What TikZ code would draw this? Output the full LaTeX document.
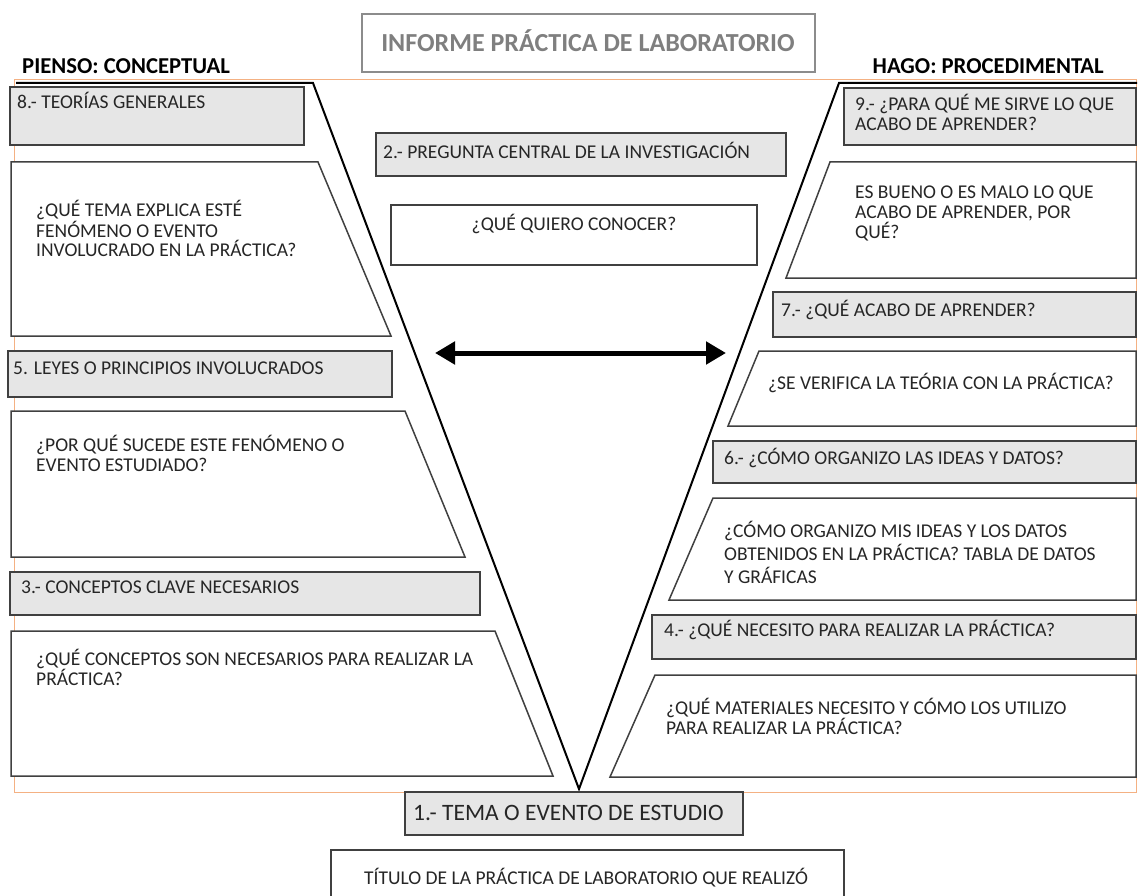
\documentclass[tikz,border=0pt]{standalone}
\usepackage{fontspec}
\setmainfont{Carlito}
\usetikzlibrary{positioning,arrows.meta}
\definecolor{framecol}{HTML}{F4B183}
\definecolor{boxgray}{HTML}{E6E6E6}
\definecolor{titlegray}{HTML}{7F7F7F}
\definecolor{txtcol}{HTML}{262626}

\begin{document}
\begin{tikzpicture}
    [x=1pt, y=-1pt,
    % multi-line nodes: base = last line
    txt/.style={anchor=base west, inner sep=0pt, text=txtcol, align=left,
        font=\fontsize{19.5}{20}\selectfont},
    head/.style={anchor=base west, inner sep=0pt, font=\bfseries\fontsize{22.7}{24}\selectfont},
    graybox/.style={draw=black!75, line width=1.5pt, fill=boxgray},
    whitebox/.style={draw=black!75, line width=1.5pt, fill=white},
    vline/.style={draw=black, line width=2pt, line join=miter},
    bigarrow/.style={line width=5pt,
        {Triangle[length=20pt,width=22pt]}-{Triangle[length=20pt,width=22pt]}}]
    \useasboundingbox (0,0) rectangle (1138,896);
    \clip (0,0) rectangle (1138,896);

    % headings
    \draw [draw=black!45, line width=1.5pt] (362,14) rectangle (815,72);
    \node [anchor=base, inner sep=0pt, text=titlegray,
        font=\bfseries\fontsize{26}{30}\selectfont] (titulo) at (588,52)
        {INFORME PRÁCTICA DE LABORATORIO};
    \node [head] (pienso) at (22,74) {PIENSO: CONCEPTUAL};
    \node [head, anchor=base east] (hago) at (1104,74) {HAGO: PROCEDIMENTAL};

    % frame and the V
    \draw [framecol, line width=1pt] (14,80) rectangle (1136,792);
    \draw [vline] (16,83) -- (313,83) -- (579,789) -- (839,83) -- (1137,83);

    % left side: pienso
    \draw [graybox] (10,87) rectangle (304,145);
    \node [txt] (teorias) at (17,109) {8.- TEORÍAS GENERALES};
    \draw [whitebox] (11,162) -- (318,162) -- (391,336) -- (11,336) -- cycle;
    \node [txt] (tema) at (36,257) {¿QUÉ TEMA EXPLICA ESTÉ\\FENÓMENO O EVENTO\\INVOLUCRADO EN LA PRÁCTICA?};
    \draw [graybox] (8,351) rectangle (392,397);
    \node [txt] (leyes) at (13,374) {5. LEYES O PRINCIPIOS INVOLUCRADOS};
    \draw [whitebox] (11,411) -- (405,411) -- (465,557) -- (11,557) -- cycle;
    \node [txt] (porque) at (36,471) {¿POR QUÉ SUCEDE ESTE FENÓMENO O\\EVENTO ESTUDIADO?};
    \draw [graybox] (10,572) rectangle (480,615);
    \node [txt] (conceptos) at (21,593) {3.- CONCEPTOS CLAVE NECESARIOS};
    \draw [whitebox] (11,631) -- (495,631) -- (553,776) -- (11,776) -- cycle;
    \node [txt] (necesarios) at (36,685) {¿QUÉ CONCEPTOS SON NECESARIOS PARA REALIZAR LA\\PRÁCTICA?};

    % centre
    \draw [graybox] (376,133) rectangle (786,176);
    \node [txt] (pregunta) at (383,159) {2.- PREGUNTA CENTRAL DE LA INVESTIGACIÓN};
    \draw [whitebox] (391,205) rectangle (757,265);
    \node [txt, anchor=base] (quiero) at (574,231) {¿QUÉ QUIERO CONOCER?};
    \coordinate (izq) at (435,353);
    \coordinate (der) at (726,353);
    \draw [bigarrow] (izq) -- (der);

    % right side: hago
    \draw [graybox] (844,88) rectangle (1136,145);
    \node [txt] (sirve) at (855,131) {9.- ¿PARA QUÉ ME SIRVE LO QUE\\ACABO DE APRENDER?};
    \draw [whitebox] (830,162) -- (1136,162) -- (1136,278) -- (786,278) -- cycle;
    \node [txt] (bueno) at (855,239) {ES BUENO O ES MALO LO QUE\\ACABO DE APRENDER, POR\\QUÉ?};
    \draw [graybox] (773,292) rectangle (1136,337);
    \node [txt] (aprender) at (781,316) {7.- ¿QUÉ ACABO DE APRENDER?};
    \draw [whitebox] (759,351) -- (1136,351) -- (1136,426) -- (728,426) -- cycle;
    \node [txt] (verifica) at (768,389) {¿SE VERIFICA LA TEÓRIA CON LA PRÁCTICA?};
    \draw [graybox] (713,441) rectangle (1136,483);
    \node [txt] (organizo) at (724,464) {6.- ¿CÓMO ORGANIZO LAS IDEAS Y DATOS?};
    \draw [whitebox] (713,498) -- (1136,498) -- (1136,600) -- (669,600) -- cycle;
    \node [txt, font=\fontsize{19.5}{23}\selectfont] (datos) at (724,583)
        {¿CÓMO ORGANIZO MIS IDEAS Y LOS DATOS\\OBTENIDOS EN LA PRÁCTICA? TABLA DE DATOS\\Y GRÁFICAS};
    \draw [graybox] (652,615) rectangle (1136,659);
    \node [txt] (necesito) at (664,636) {4.- ¿QUÉ NECESITO PARA REALIZAR LA PRÁCTICA?};
    \draw [whitebox] (655,675) -- (1136,675) -- (1136,777) -- (610,777) -- cycle;
    \node [txt] (materiales) at (666,734) {¿QUÉ MATERIALES NECESITO Y CÓMO LOS UTILIZO\\PARA REALIZAR LA PRÁCTICA?};

    % bottom
    \draw [graybox] (405,792) rectangle (743,835);
    \node [txt, font=\fontsize{23.5}{26}\selectfont] (evento) at (413,820) {1.- TEMA O EVENTO DE ESTUDIO};
    \draw [whitebox] (331,850) rectangle (844,910);
    \node [txt] (practica) at (364,884) {TÍTULO DE LA PRÁCTICA DE LABORATORIO QUE REALIZÓ};
\end{tikzpicture}
\end{document}
